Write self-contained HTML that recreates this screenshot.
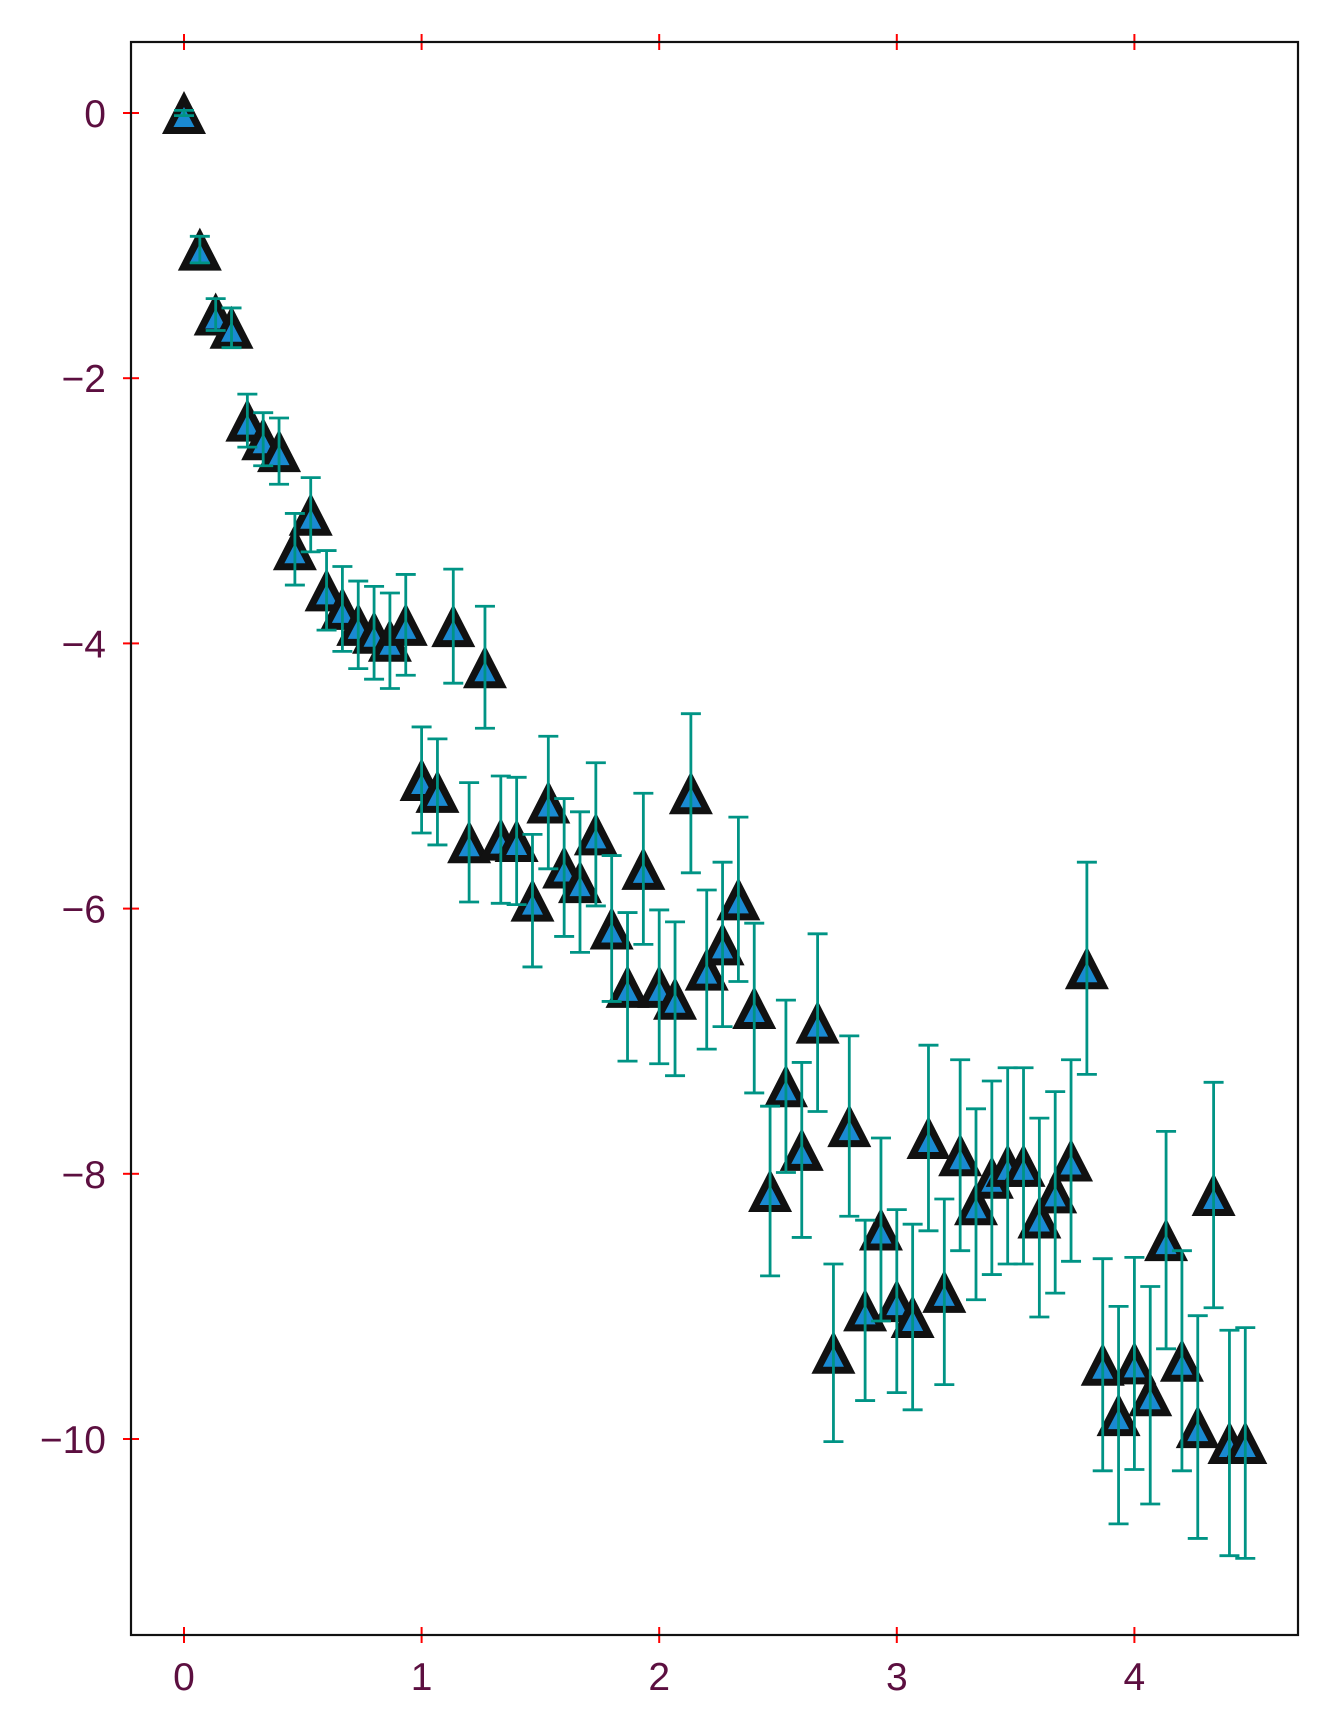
<!DOCTYPE html>
<html><head><meta charset="utf-8"><style>
html,body{margin:0;padding:0;background:#fff;}
svg{display:block;}
text{font-family:"Liberation Sans",sans-serif;fill:#5c0f40;font-size:39px;}
</style></head><body>
<svg id="chart" width="1332" height="1732" viewBox="0 0 1332 1732" xmlns="http://www.w3.org/2000/svg">
<rect x="131" y="42" width="1167" height="1593" fill="#fff"/>
<g id="ticks"></g>
<g id="marks"></g>
<g id="errs"></g>
<rect x="131" y="42" width="1167" height="1593" fill="none" stroke="#111" stroke-width="2.2"/>
</svg>
<script>
const yValues=[0,-1.03,-1.52,-1.62,-2.32,-2.46,-2.55,-3.29,-3.03,-3.6,-3.74,-3.86,-3.92,-3.98,-3.86,-5.03,-5.12,-3.87,-5.5,-4.18,-5.48,-5.49,-5.94,-5.2,-5.69,-5.8,-5.44,-6.15,-6.59,-5.7,-6.59,-6.68,-5.13,-6.46,-6.27,-5.93,-6.75,-8.13,-7.34,-7.82,-6.86,-9.35,-7.64,-9.03,-8.42,-8.96,-9.08,-7.73,-8.89,-7.86,-8.23,-8.03,-7.94,-7.94,-8.33,-8.14,-7.9,-6.45,-9.44,-9.82,-9.43,-9.67,-8.5,-9.41,-9.91,-8.16,-10.03,-10.03];
const yErrors=[0.02,0.1,0.12,0.15,0.2,0.2,0.25,0.27,0.28,0.3,0.32,0.33,0.35,0.36,0.38,0.4,0.4,0.43,0.45,0.46,0.48,0.48,0.5,0.5,0.52,0.53,0.54,0.55,0.56,0.57,0.58,0.58,0.6,0.6,0.62,0.62,0.64,0.64,0.65,0.66,0.67,0.67,0.68,0.68,0.69,0.69,0.7,0.7,0.7,0.72,0.72,0.73,0.74,0.74,0.75,0.76,0.76,0.8,0.8,0.82,0.8,0.82,0.82,0.83,0.84,0.85,0.85,0.87];
const xStep=1/15;
const xTicks=[0,1,2,3,4];
const yTicks=[0,-2,-4,-6,-8,-10];
const yTickLabels=["0","\u22122","\u22124","\u22126","\u22128","\u221210"];

const NS="http://www.w3.org/2000/svg";
const sx=v=>184+237.6*v;
const sy=v=>113-132.6*v;
function mk(tag,attrs,parent){const e=document.createElementNS(NS,tag);for(const k in attrs)e.setAttribute(k,attrs[k]);parent.appendChild(e);return e;}
const ticks=document.getElementById('ticks'),marks=document.getElementById('marks'),errs=document.getElementById('errs');
xTicks.forEach(t=>{
  const x=sx(t);
  const a=mk('line',{x1:x,x2:x,y1:1627,y2:1643,stroke:'#f00','stroke-width':2},ticks);
  
  
  const b=mk('line',{x1:x,x2:x,y1:34,y2:50,stroke:'#f00','stroke-width':2},ticks);
  
  
  const l=mk('text',{x:x,y:1690,'text-anchor':'middle'},ticks);
  l.textContent=String(t);
  
  
});
yTicks.forEach((t,i)=>{
  const y=sy(t);
  const a=mk('line',{x1:123,x2:139,y1:y,y2:y,stroke:'#f00','stroke-width':2},ticks);
  
  
  const l=mk('text',{x:106,y:y+14,'text-anchor':'end'},ticks);
  l.textContent=yTickLabels[i];
  
  
});
yValues.forEach((v,i)=>{
  const cx=sx(i*xStep),cy=sy(v);
  const g=mk('g',{},marks);
  
  
  mk('polygon',{points:`${cx},${cy-22} ${cx-22},${cy+21} ${cx+22},${cy+21}`,fill:'#111'},g);
  mk('polygon',{points:`${cx},${cy-6} ${cx-10.5},${cy+14} ${cx+10.5},${cy+14}`,fill:'#1a8ad2'},g);
  const e=yErrors[i],t=sy(v+e),b=sy(v-e);
  const eg=mk('g',{stroke:'#009485','stroke-width':2.8},errs);
  
  
  mk('line',{x1:cx,x2:cx,y1:t,y2:b},eg);
  mk('line',{x1:cx-10,x2:cx+10,y1:t,y2:t},eg);
  mk('line',{x1:cx-10,x2:cx+10,y1:b,y2:b},eg);
});
</script>
</body></html>
